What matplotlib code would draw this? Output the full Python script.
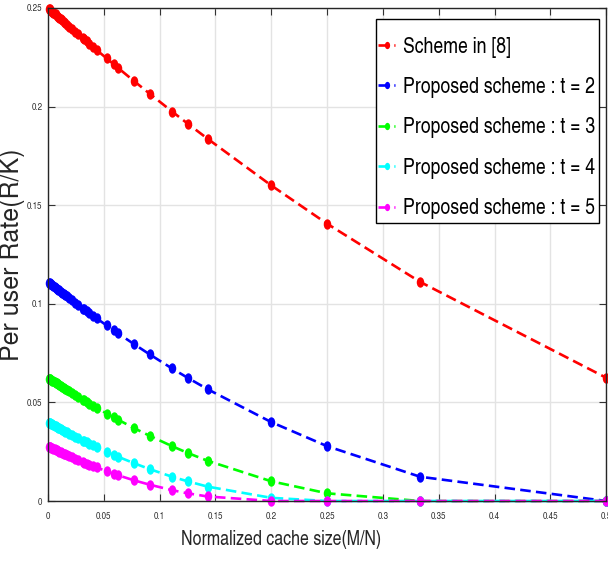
import matplotlib
matplotlib.use('Agg')
import matplotlib.pyplot as plt
from matplotlib.path import Path
from matplotlib.patches import Rectangle
from matplotlib.transforms import Affine2D

# normalized cache size M/N
cache_size = [0.001, 0.0014, 0.0022, 0.003, 0.0039, 0.0047, 0.0058, 0.0067, 0.0078, 0.0088,
              0.0099, 0.0112, 0.0127, 0.0141, 0.0156, 0.0169, 0.0189, 0.0213, 0.0244, 0.027,
              0.0313, 0.0323, 0.0345, 0.037, 0.04, 0.0435, 0.0526, 0.0588, 0.0625, 0.0769,
              0.0909, 0.1111, 0.125, 0.1429, 0.2, 0.25, 0.3333, 0.5]

# per user rate R/K
rate_ref8 = [0.2495, 0.2493, 0.2489, 0.2485, 0.2481, 0.2477, 0.2471, 0.2467, 0.2461, 0.2456,
             0.2451, 0.2444, 0.2437, 0.2430, 0.2423, 0.2416, 0.2406, 0.2395, 0.2379, 0.2367,
             0.2346, 0.2341, 0.2330, 0.2318, 0.2304, 0.2287, 0.2244, 0.2215, 0.2197, 0.2130,
             0.2066, 0.1975, 0.1914, 0.1837, 0.1600, 0.1406, 0.1111, 0.0625]
rate_t2 = [0.1107, 0.1105, 0.1101, 0.1098, 0.1094, 0.1090, 0.1085, 0.1082, 0.1077, 0.1072,
           0.1068, 0.1062, 0.1055, 0.1049, 0.1043, 0.1037, 0.1029, 0.1018, 0.1005, 0.0994,
           0.0976, 0.0972, 0.0963, 0.0953, 0.0940, 0.0926, 0.0890, 0.0865, 0.0851, 0.0796,
           0.0744, 0.0672, 0.0625, 0.0567, 0.0400, 0.0278, 0.0123, 0.0]
rate_t3 = [0.0621, 0.0620, 0.0617, 0.0614, 0.0610, 0.0607, 0.0603, 0.0600, 0.0596, 0.0592,
           0.0588, 0.0584, 0.0578, 0.0573, 0.0568, 0.0563, 0.0556, 0.0548, 0.0537, 0.0528,
           0.0513, 0.0510, 0.0502, 0.0494, 0.0484, 0.0473, 0.0443, 0.0424, 0.0413, 0.0370,
           0.0331, 0.0278, 0.0244, 0.0204, 0.0100, 0.0039, 0.0, 0.0]
rate_t4 = [0.0397, 0.0396, 0.0393, 0.0390, 0.0388, 0.0385, 0.0382, 0.0379, 0.0375, 0.0372,
           0.0369, 0.0365, 0.0360, 0.0356, 0.0352, 0.0348, 0.0342, 0.0335, 0.0326, 0.0318,
           0.0306, 0.0303, 0.0297, 0.0290, 0.0282, 0.0273, 0.0249, 0.0234, 0.0225, 0.0192,
           0.0162, 0.0123, 0.0100, 0.0073, 0.0016, 0.0, 0.0, 0.0]
rate_t5 = [0.0275, 0.0274, 0.0272, 0.0270, 0.0267, 0.0265, 0.0262, 0.0259, 0.0257, 0.0254,
           0.0251, 0.0248, 0.0244, 0.0240, 0.0236, 0.0233, 0.0228, 0.0222, 0.0214, 0.0208,
           0.0198, 0.0195, 0.0190, 0.0185, 0.0178, 0.0170, 0.0151, 0.0138, 0.0131, 0.0105,
           0.0083, 0.0055, 0.0039, 0.0023, 0.0, 0.0, 0.0, 0.0]

labels = ['Scheme in [8]', 'Proposed scheme : t = 2', 'Proposed scheme : t = 3',
          'Proposed scheme : t = 4', 'Proposed scheme : t = 5']
colors = ['#ff0000', '#0000ff', '#00ff00', '#00ffff', '#ff00ff']

xticks = [0, 0.05, 0.1, 0.15, 0.2, 0.25, 0.3, 0.35, 0.4, 0.45, 0.5]
xtick_labels = ['0', '0.05', '0.1', '0.15', '0.2', '0.25', '0.3', '0.35', '0.4', '0.45', '0.5']
yticks = [0, 0.05, 0.1, 0.15, 0.2, 0.25]
ytick_labels = ['0', '0.05', '0.1', '0.15', '0.2', '0.25']

narrow = ['TeX Gyre Heros Cn', 'Liberation Sans', 'DejaVu Sans']
wide = ['TeX Gyre Heros', 'Liberation Sans', 'DejaVu Sans']

# slightly tall marker, the original picture is stretched vertically
ell = Affine2D().scale(0.72, 1.0).transform_path(Path.unit_circle())

fig = plt.figure(figsize=(6.08, 5.69), dpi=100)
ax = fig.add_axes([0.079, 0.1195, 0.918, 0.8665])

series = [rate_ref8, rate_t2, rate_t3, rate_t4, rate_t5]
for y, c, lab in zip(series, colors, labels):
    ax.plot(cache_size, y, color=c, linestyle=(0, (4, 2)), linewidth=1.9,
            marker=ell, markersize=7.5, markeredgewidth=0, label=lab, clip_on=False)

ax.set_xlim(0, 0.5)
ax.set_ylim(0, 0.25)
ax.set_xticks(xticks)
ax.set_xticklabels(xtick_labels, family=narrow, fontsize=7, color='#333333')
ax.set_yticks(yticks)
ax.set_yticklabels(ytick_labels, family=narrow, fontsize=7, color='#333333')
ax.tick_params(direction='in', length=5, width=0.8, top=True, right=True,
               color='#333333', pad=8)
ax.tick_params(axis='y', pad=4)
ax.grid(True, color='#e3e3e3', linewidth=1.0)
ax.set_axisbelow(True)
for s in ax.spines.values():
    s.set_color('#262626')
    s.set_linewidth(1.0)

ax.set_xlabel('Normalized cache size(M/N)', family=narrow, fontsize=14, color='#262626')
ax.xaxis.set_label_coords(0.418, -0.058)
ax.xaxis.label.set_verticalalignment('top')
ax.set_ylabel('Per user Rate(R/K)', family=wide, fontsize=18, color='#262626')
ax.yaxis.set_label_coords(-0.041, 0.5)

# legend box (MATLAB style: tight at the sides, roomy at top and bottom)
box = Rectangle((0.5878, 0.5639), 0.3996, 0.4138, transform=ax.transAxes,
                facecolor='white', edgecolor='black', linewidth=1.0, zorder=4.5,
                clip_on=False)
ax.add_patch(box)
leg = ax.legend(loc='upper left', bbox_to_anchor=(0.5878, 0.9463), borderaxespad=0,
                prop={'family': narrow, 'size': 15.5}, frameon=False,
                handlelength=0.8, handletextpad=0.35, labelspacing=0.9,
                borderpad=0.1, markerscale=0.7)
leg.set_zorder(5)

fig.savefig('out.png', dpi=100)
